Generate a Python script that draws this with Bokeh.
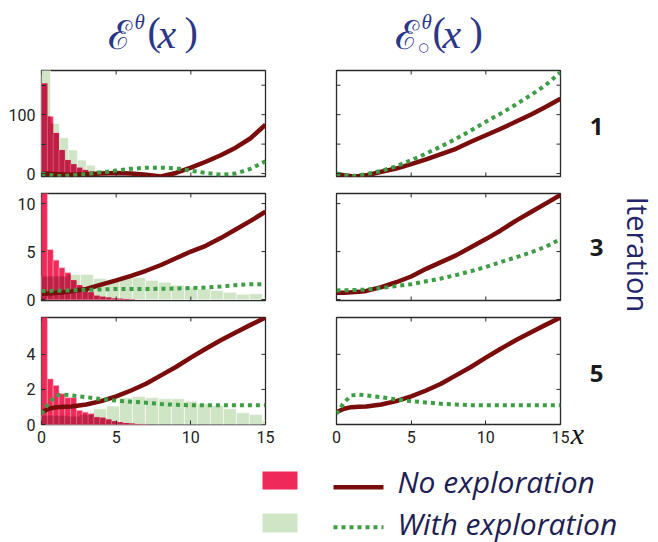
import math
from bokeh.plotting import figure
from bokeh.models import Range1d, LinearAxis, FixedTicker
from bokeh.layouts import row, column
from bokeh.embed import file_html
from bokeh.resources import INLINE
from bokeh.core.properties import value

# ---------------- data ----------------
x_line = [0, 0.5, 1, 1.5, 2, 3, 4, 5, 6, 7, 8, 9, 10, 11, 12, 13, 14, 15]

# Iteration 1
e_noexp_it1 = [0, -0.5, -1, -1.5, -2, -1, 0, 1, 0, -2, -5, 1, 10, 20, 31, 44, 60, 83]
e_exp_it1 = [0, -2, -4, -4, -3, -1, 2, 5, 8, 10, 10, 9, 5, 1, -2, 0, 8, 21]
eo_noexp_it1 = [-1, -3, -4.5, -4, -3, 3, 8.5, 16, 24, 33, 42, 54, 65, 76, 88, 100, 113, 127]
eo_exp_it1 = [0, -2.5, -4.5, -3, -1, 4.5, 12.4, 22.6, 34, 46, 59, 73, 88, 102, 117, 133, 150, 172]

# Iteration 3
e_noexp_it3 = [0.6, 0.62, 0.7, 0.77, 0.85, 1.1, 1.55, 2.0, 2.46, 3.0, 3.6, 4.3, 5.0, 5.6, 6.4, 7.3, 8.2, 9.15]
e_exp_it3 = [0.9, 0.9, 0.92, 0.94, 0.95, 1.0, 1.05, 1.1, 1.1, 1.1, 1.12, 1.15, 1.2, 1.25, 1.35, 1.5, 1.6, 1.6]
eo_noexp_it3 = [0.7, 0.72, 0.75, 0.8, 0.9, 1.3, 1.8, 2.4, 3.2, 3.9, 4.6, 5.45, 6.3, 7.2, 8.2, 9.1, 10.0, 10.9]
eo_exp_it3 = [0.95, 0.96, 0.98, 1.0, 1.04, 1.2, 1.4, 1.6, 1.9, 2.2, 2.55, 2.95, 3.4, 3.9, 4.4, 4.9, 5.5, 6.3]

# Iteration 5
e_noexp_it5 = [0.7, 0.9, 0.99, 1.01, 1.03, 1.14, 1.33, 1.6, 1.94, 2.32, 2.8, 3.28, 3.81, 4.32, 4.8, 5.25, 5.68, 6.1]
e_exp_it5 = [0.6, 1.25, 1.66, 1.7, 1.66, 1.56, 1.45, 1.36, 1.3, 1.24, 1.17, 1.12, 1.1, 1.1, 1.1, 1.1, 1.1, 1.1]
eo_noexp_it5 = [0.7, 0.9, 0.99, 1.01, 1.03, 1.14, 1.33, 1.6, 1.94, 2.32, 2.8, 3.28, 3.81, 4.32, 4.8, 5.25, 5.68, 6.1]
eo_exp_it5 = [0.6, 1.25, 1.66, 1.7, 1.66, 1.56, 1.43, 1.33, 1.26, 1.18, 1.14, 1.1, 1.1, 1.1, 1.1, 1.1, 1.1, 1.1]

# Histograms of visited states (bar heights, bins start at x = 0)
red_bin = 0.39
red_hist_it1 = [153, 97, 69, 40, 23, 16, 10, 6, 3, 1.5, 0.8]
red_hist_it3 = [12, 5.2, 4.1, 3.3, 2.8, 2.0, 1.5, 1.1, 0.75, 0.4, 0.3, 0.2, 0.12, 0.08, 0.05, 0.03]
red_hist_it5 = [6.5, 2.6, 2.23, 1.75, 1.52, 1.52, 0.8, 0.7, 0.61, 0.42, 0.38, 0.29, 0.19, 0.13, 0.08, 0.05, 0.03, 0.02]

green_bin_it1 = 0.6
green_hist_it1 = [190, 85, 61, 40, 23, 14, 6, 3, 2, 2, 2, 2, 2, 2, 2, 2, 2, 2, 2, 2, 2, 2, 2, 2, 2]
green_bin = 0.87
green_hist_it3 = [2.4, 2.4, 2.6, 2.6, 2.2, 2.1, 2.3, 2.3, 2.0, 1.8, 1.5, 1.3, 1.1, 0.95, 0.75, 0.55, 0.6, 0.05]
green_hist_it5 = [0.5, 0.5, 0.45, 0.55, 0.9, 1.05, 1.52, 1.6, 1.52, 1.47, 1.47, 1.33, 1.18, 1.09, 0.9, 0.67, 0.57, 0.23]

x_ticks = [0, 5, 10, 15]
iterations = ["1", "3", "5"]
legend_labels = ["No exploration", "With exploration"]

# ---------------- styles ----------------
RED_BAR = "#ef2a5a"
GREEN_BAR = "#cfe5c5"
DARK_BAR = "#bd1f45"
LINE_RED = "#7a0c0c"
LINE_GREEN = "#3f9d47"
NAVY = "#2b3688"
LEG_TEXT = "#1e1e55"
FRAME = "#2a2a2a"
X0, X1 = 0, 15


def bin_edges(heights, w):
    return [i * w for i in range(len(heights))], [(i + 1) * w for i in range(len(heights))]


def overlap(rh, rw, gh, gw):
    L, R, T = [], [], []
    for i, a in enumerate(rh):
        for j, b in enumerate(gh):
            lo = max(i * rw, j * gw)
            hi = min((i + 1) * rw, (j + 1) * gw)
            if hi > lo:
                L.append(lo)
                R.append(hi)
                T.append(min(a, b))
    return L, R, T


def add_axis(p, side, ticks, overrides=None):
    a = LinearAxis(ticker=FixedTicker(ticks=ticks, minor_ticks=[]))
    a.major_tick_in = 4
    a.major_tick_out = 0
    a.major_tick_line_color = FRAME
    a.minor_tick_line_color = None
    a.axis_line_color = None
    a.major_label_text_font = "Roboto"
    a.major_label_text_font_size = "16px"
    a.major_label_text_color = "#222222"
    a.major_label_standoff = 6
    if overrides:
        a.major_label_overrides = overrides
    p.add_layout(a, side)


def edge_ticks(p, side, ticks, yr):
    # inward tick marks on an unlabeled side: a dash centred on the frame edge,
    # half of which is clipped away by the frame
    if side in ("above", "below"):
        yv = yr[1] if side == "above" else yr[0]
        p.scatter(x=ticks, y=[yv] * len(ticks), marker="dash", angle=math.pi / 2, size=8,
                  line_color=FRAME, line_width=1)
    else:
        xv = X1 if side == "right" else X0
        p.scatter(x=[xv] * len(ticks), y=ticks, marker="dash", size=8,
                  line_color=FRAME, line_width=1)


def panel(width, height, borders, yr, yticks, show_y, show_x, lines, hist=None, overrides=None):
    bl, br, bt, bb = borders
    p = figure(width=width, height=height, x_range=Range1d(X0, X1), y_range=Range1d(*yr),
               x_axis_type=None, y_axis_type=None, output_backend="svg",
               toolbar_location=None, min_border_left=bl, min_border_right=br,
               min_border_top=bt, min_border_bottom=bb)
    p.outline_line_color = FRAME
    p.outline_line_width = 1.3
    p.background_fill_color = "white"
    p.border_fill_color = "white"
    if show_y:
        add_axis(p, "left", yticks, overrides)
    if show_x:
        add_axis(p, "below", x_ticks)
    if hist is not None:
        rh, rw, gh, gw = hist
        gl, gr = bin_edges(gh, gw)
        p.quad(left=gl, right=gr, top=gh, bottom=0, fill_color=GREEN_BAR,
               line_color="white", line_width=0.8, line_alpha=0.7)
        rl, rr = bin_edges(rh, rw)
        p.quad(left=rl, right=rr, top=rh, bottom=0, fill_color=RED_BAR,
               line_color="#f7a0b4", line_width=0.6, line_alpha=0.8)
        ol, orr, ot = overlap(rh, rw, gh, gw)
        p.quad(left=ol, right=orr, top=ot, bottom=0, fill_color=DARK_BAR, line_color=None)
        p.segment(x0=rr[:-1], y0=[0] * (len(rr) - 1), x1=rr[:-1],
                  y1=[min(a, b) for a, b in zip(rh[:-1], rh[1:])],
                  line_color="#e9889e", line_width=0.6, line_alpha=0.8)
    red, green = lines
    p.line(x_line, red, line_color=LINE_RED, line_width=4.5)
    p.line(x_line, green, line_color=LINE_GREEN, line_width=4, line_dash="4 4")
    if not show_y:
        edge_ticks(p, "left", yticks, yr)
    if not show_x:
        edge_ticks(p, "below", x_ticks, yr)
    edge_ticks(p, "right", yticks, yr)
    edge_ticks(p, "above", x_ticks, yr)
    return p


def canvas(w, h):
    p = figure(width=w, height=h, x_range=Range1d(0, w), y_range=Range1d(0, h),
               x_axis_type=None, y_axis_type=None, output_backend="svg",
               toolbar_location=None, min_border=0)
    p.outline_line_color = None
    p.background_fill_color = "white"
    p.border_fill_color = "white"
    return p


LB = (41, 33)
RB = (38, 9)
LW, RW = 298, 271

L1 = panel(LW, 125, (*LB, 10, 9), (-5, 175), [0, 50, 100, 150], True, False,
           (e_noexp_it1, e_exp_it1), (red_hist_it1, red_bin, green_hist_it1, green_bin_it1),
           overrides={50: "", 150: ""})
R1 = panel(RW, 125, (*RB, 10, 9), (-5, 175), [0, 50, 100, 150], False, False,
           (eo_noexp_it1, eo_exp_it1))
L2 = panel(LW, 124, (*LB, 8, 9), (-0.1, 11.05), [0, 5, 10], True, False,
           (e_noexp_it3, e_exp_it3), (red_hist_it3, red_bin, green_hist_it3, green_bin))
R2 = panel(RW, 124, (*RB, 8, 9), (-0.1, 11.05), [0, 5, 10], False, False,
           (eo_noexp_it3, eo_exp_it3))
L3 = panel(LW, 149, (*LB, 8, 34), (0, 6.1), [0, 2, 4], True, True,
           (e_noexp_it5, e_exp_it5), (red_hist_it5, red_bin, green_hist_it5, green_bin))
R3 = panel(RW, 149, (*RB, 8, 34), (0, 6.1), [0, 2, 4], False, True,
           (eo_noexp_it5, eo_exp_it5))

# ---------------- titles ----------------
TH = 60
T = canvas(658, TH)
serif = value("Liberation Serif")


def title(x0, xp, xx, xc):
    T.text(x=[x0], y=[TH - 34], text=["ℰ"], text_font=value("DejaVu Serif"),
           text_font_size=value("40px"), text_color=NAVY, text_baseline="middle")
    T.text(x=[x0 + 27], y=[TH - 21], text=["θ"], text_font=serif, text_font_style="italic",
           text_font_size=value("21px"), text_color=NAVY, text_baseline="middle")
    T.text(x=[xp, xc], y=[TH - 31, TH - 31], text=["(", ")"], text_font=serif,
           text_font_size=value("40px"), text_color=NAVY, text_baseline="middle")
    T.text(x=[xx], y=[TH - 33], text=["x"], text_font=serif, text_font_style="italic",
           text_font_size=value("42px"), text_color=NAVY, text_baseline="middle")


title(107, 147, 157, 184)
title(394, 432, 442, 469)
T.text(x=[423], y=[TH - 46], text=["○"], text_font=value("DejaVu Sans"), text_font_size=value("12px"),
       text_color=NAVY, text_baseline="middle", text_align="center")

# ---------------- iteration labels and x label ----------------
NH = 398
NX = LW + RW
N = canvas(658 - NX, NH)
N.text(x=[596 - NX] * 3, y=[NH - 66, NH - 187, NH - 313], text=iterations, text_font=value("Open Sans"),
       text_font_style="bold", text_font_size=value("24px"), text_color="#1a1a1a",
       text_align="center", text_baseline="middle")
N.text(x=[638 - NX], y=[NH - 194], text=["Iteration"], text_font=value("Open Sans"),
       text_font_size=value("29px"), text_color="#24246b", text_align="center",
       text_baseline="middle", angle=-math.pi / 2)
N.text(x=[577 - NX], y=[NH - 373], text=["x"], text_font=serif, text_font_style="italic",
       text_font_size=value("30px"), text_color="#111111", text_align="center",
       text_baseline="middle")

# ---------------- legend ----------------
GH = 84
G = canvas(658, GH)
G.quad(left=[262], right=[297], top=[GH - 13], bottom=[GH - 31], fill_color=RED_BAR, line_color=None)
G.quad(left=[262], right=[297], top=[GH - 55], bottom=[GH - 74], fill_color=GREEN_BAR, line_color=None)
G.line([333, 383], [GH - 28.7, GH - 28.7], line_color=LINE_RED, line_width=4.5)
G.line([333, 383], [GH - 68.7, GH - 68.7], line_color=LINE_GREEN, line_width=4, line_dash="4 4")
G.text(x=[397, 397], y=[GH - 23, GH - 64.5], text=legend_labels, text_font=value("Open Sans"),
       text_font_style="italic", text_font_size=value("30px"), text_color=LEG_TEXT,
       text_baseline="middle")

layout = column(T, row(column(row(L1, R1), row(L2, R2), row(L3, R3)), N), G)
open("out.html", "w").write(file_html(layout, INLINE))
